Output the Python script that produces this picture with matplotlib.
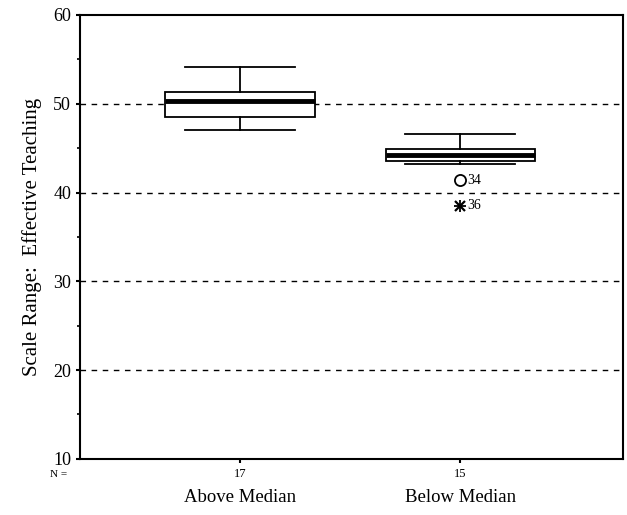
import matplotlib
matplotlib.use("Agg")
import matplotlib.pyplot as plt

# Box statistics
groups = ["Above Median", "Below Median"]
counts = [17, 15]
whislo = [47.0, 43.2]
q1 = [48.5, 43.5]
medians = [50.3, 44.2]
q3 = [51.3, 44.9]
whishi = [54.1, 46.6]
outlier_vals = [41.4]
outlier_ids = ["34"]
extreme_vals = [38.5]
extreme_ids = ["36"]

plt.rcParams["font.family"] = ["Liberation Serif", "DejaVu Serif"]

fig = plt.figure(figsize=(6.27, 5.15), dpi=100)
ax = fig.add_axes([0.128, 0.109, 0.866, 0.862])

stats = []
for i in range(len(groups)):
    stats.append({"med": medians[i], "q1": q1[i], "q3": q3[i],
                  "whislo": whislo[i], "whishi": whishi[i], "fliers": []})

ax.bxp(stats, positions=[1, 2], widths=0.68, showfliers=False, patch_artist=True,
       boxprops=dict(edgecolor="black", facecolor="white", linewidth=1.3),
       medianprops=dict(color="black", linewidth=3.5),
       whiskerprops=dict(color="black", linewidth=1.3),
       capprops=dict(color="black", linewidth=1.3), capwidths=0.5, zorder=3)

# outlier and extreme value in second group
ax.plot([2] * len(outlier_vals), outlier_vals, marker="o", mfc="white",
        mec="black", ms=8, mew=1.3, linestyle="none", zorder=4)
ax.plot([2] * len(extreme_vals), extreme_vals, marker="x", color="black",
        ms=7, mew=1.6, linestyle="none", zorder=4)
ax.plot([2] * len(extreme_vals), extreme_vals, marker="+", color="black",
        ms=8, mew=1.3, linestyle="none", zorder=4)
for v, lab in zip(outlier_vals, outlier_ids):
    ax.text(2.03, v, lab, va="center", ha="left", fontsize=10)
for v, lab in zip(extreme_vals, extreme_ids):
    ax.text(2.03, v, lab, va="center", ha="left", fontsize=10)

ax.set_ylim(10, 60)
ax.set_xlim(0.273, 2.74)
ax.set_yticks([10, 20, 30, 40, 50, 60])
ax.set_yticks([15, 25, 35, 45, 55], minor=True)
for y in [20, 30, 40, 50]:
    ax.axhline(y, color="black", linestyle=(0, (4, 4)), linewidth=1.0, zorder=1)

ax.set_xticks([1, 2])
ax.set_xticklabels([str(c) for c in counts], fontsize=9)
ax.tick_params(axis="both", direction="out", length=3, width=1.5)
ax.tick_params(axis="y", which="minor", length=2, width=1.2)
ax.tick_params(axis="y", labelsize=13)
for sp in ax.spines.values():
    sp.set_linewidth(1.5)

for i, g in enumerate(groups):
    ax.text(i + 1, -0.087, g, transform=ax.get_xaxis_transform(),
            ha="center", va="center", fontsize=13.5)
ax.text(-0.04, -0.035, "N =", transform=ax.transAxes, ha="center",
        va="center", fontsize=8)

ax.set_ylabel("Scale Range:  Effective Teaching", fontsize=15, labelpad=8)

fig.savefig("out.png", dpi=100)
